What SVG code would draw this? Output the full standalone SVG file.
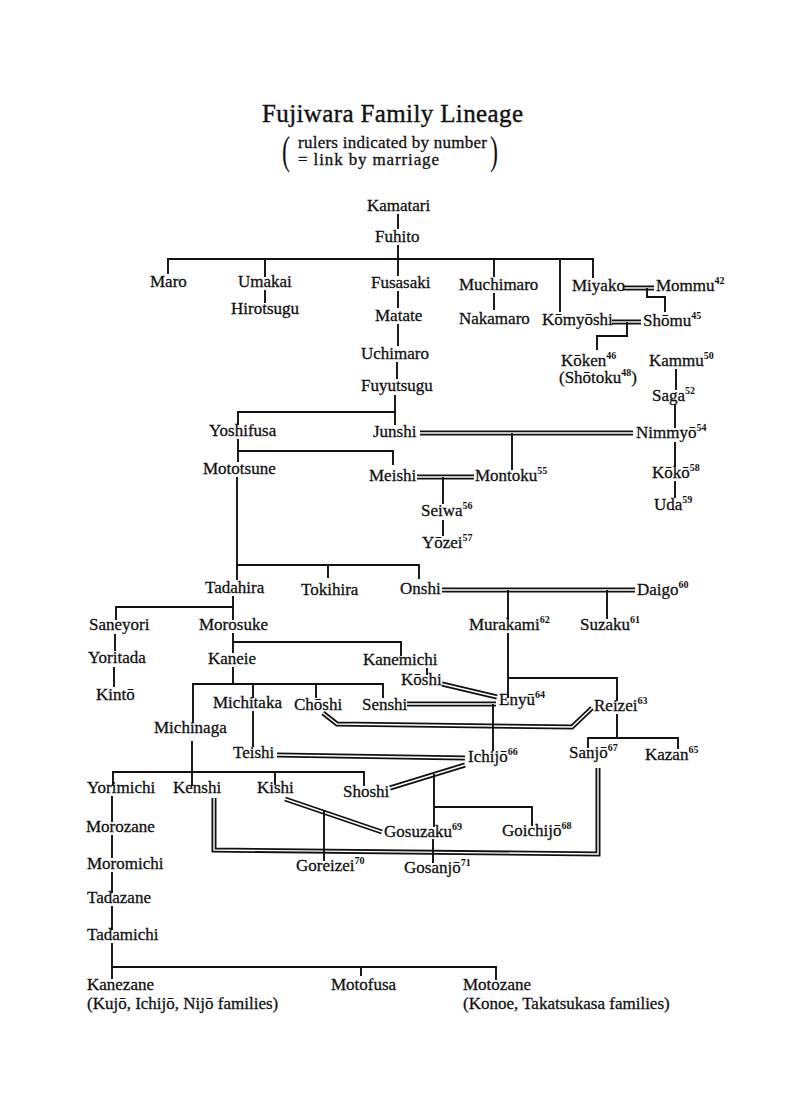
<svg xmlns="http://www.w3.org/2000/svg" xmlns:xlink="http://www.w3.org/1999/xlink" width="800" height="1095" viewBox="0 0 800 1095">
<style>
text{font-family:"Liberation Serif","Times New Roman",serif;fill:#111;stroke:#111;stroke-width:0.3}
.n{font-size:17px}
.s{font-size:10px;font-weight:bold;stroke-width:0}
.t{font-size:25px;stroke-width:0.4}
.sub{font-size:17px}
.par{font-size:40px;stroke-width:0}
.ln{stroke:#111;stroke-width:1.9;fill:none;stroke-linecap:square}
.mo{stroke:#111;stroke-width:5;fill:none;stroke-linejoin:miter}
.mi{stroke:#fff;stroke-width:1.4;fill:none;stroke-linejoin:miter}
</style>
<defs>
<path id="m1" d="M623,288 H654"/>
<path id="m2" d="M612,322 H641"/>
<path id="m3" d="M420,433 H633"/>
<path id="m4" d="M417,477 H474"/>
<path id="m5" d="M442,590 H635"/>
<path id="m6" d="M442,684 L497,697"/>
<path id="m7" d="M407,704 H496"/>
<path id="m8" d="M323,713 L337,724 L572,727 L592,708"/>
<path id="m9" d="M277,755 L465,758"/>
<path id="m10" d="M390,788 L465,765"/>
<path id="m11" d="M285,799 L382,832"/>
<path id="m12" d="M214,798 V850 L598,854 V768"/>
</defs>
<rect width="800" height="1095" fill="#fff"/>

<g id="title">
<text class="t" x="262" y="122" textLength="261" lengthAdjust="spacing">Fujiwara Family Lineage</text>
<text class="par" x="282" y="164" transform="translate(282 0) scale(0.6 1) translate(-282 0)">(</text>
<text class="sub" x="298" y="148" textLength="189" lengthAdjust="spacing">rulers indicated by number</text>
<text class="sub" x="298" y="165" textLength="141" lengthAdjust="spacing">= link by marriage</text>
<text class="par" x="490" y="164" transform="translate(490 0) scale(0.6 1) translate(-490 0)">)</text>
</g>

<g id="connectors">
<g id="marriages">
<use xlink:href="#m1" class="mo"/><use xlink:href="#m2" class="mo"/><use xlink:href="#m3" class="mo"/><use xlink:href="#m4" class="mo"/><use xlink:href="#m5" class="mo"/><use xlink:href="#m6" class="mo"/><use xlink:href="#m7" class="mo"/><use xlink:href="#m8" class="mo"/><use xlink:href="#m9" class="mo"/><use xlink:href="#m10" class="mo"/><use xlink:href="#m11" class="mo"/><use xlink:href="#m12" class="mo"/>
<use xlink:href="#m1" class="mi"/><use xlink:href="#m2" class="mi"/><use xlink:href="#m3" class="mi"/><use xlink:href="#m4" class="mi"/><use xlink:href="#m5" class="mi"/><use xlink:href="#m6" class="mi"/><use xlink:href="#m7" class="mi"/><use xlink:href="#m8" class="mi"/><use xlink:href="#m9" class="mi"/><use xlink:href="#m10" class="mi"/><use xlink:href="#m11" class="mi"/><use xlink:href="#m12" class="mi"/>
</g>
<g id="descent" class="ln">
<path d="M398,215 V228"/>
<path d="M398,246 V275"/>
<path d="M168,259 H593"/>
<path d="M168,259 V273 M265,259 V276 M494,259 V276 M560,259 V311 M593,259 V277"/>
<path d="M265,291 V302"/>
<path d="M494,294 V309"/>
<path d="M398,292 V307"/>
<path d="M398,325 V345"/>
<path d="M397,363 V378"/>
<path d="M647,289 V297 H665 V311"/>
<path d="M627,323 V336 H597 V349"/>
<path d="M676,370 V389 M675,405 V427 M675,443 V466 M675,482 V497"/>
<path d="M395,396 V424"/>
<path d="M238,412 H395"/>
<path d="M238,412 V424 M238,440 V461"/>
<path d="M238,451 H393 V464"/>
<path d="M512,434 V469"/>
<path d="M443,478 V503 M443,521 V535"/>
<path d="M237,478 V579"/>
<path d="M237,565 H419 V578 M328,565 V577"/>
<path d="M508,591 V618 M607,591 V618"/>
<path d="M233,597 V619 M116,607 H233 M116,607 V619"/>
<path d="M115,635 V650 M114,668 V686"/>
<path d="M233,634 V652 M233,642 H401 V655"/>
<path d="M233,668 V684 M193,684 H383 M193,684 V722 M253,684 V697 M316,684 V697 M383,684 V697"/>
<path d="M427,669 V674"/>
<path d="M508,634 V697 M508,678 H617 V700"/>
<path d="M493,705 V750"/>
<path d="M253,712 V746"/>
<path d="M617,715 V738 M588,738 H678 M588,738 V747 M678,738 V748"/>
<path d="M192,742 V785 M113,772 H364 M113,772 V785 M275,772 V784 M364,772 V785"/>
<path d="M434,775 V826 M434,807 H532 V825"/>
<path d="M324,812 V860"/>
<path d="M433,840 V862"/>
<path d="M112,797 V821 M112,836 V857 M112,873 V892 M112,907 V929 M112,944 V978"/>
<path d="M112,967 H496 M361,967 V975 M496,967 V979"/>
</g>
</g>

<g id="nodes" class="n">
<g id="n-kamatari"><text class="n" x="367" y="211">Kamatari</text></g>
<g id="n-fuhito"><text class="n" x="375" y="242">Fuhito</text></g>
<g id="n-maro"><text class="n" x="150" y="287">Maro</text></g>
<g id="n-umakai"><text class="n" x="238" y="287">Umakai</text></g>
<g id="n-hirotsugu"><text class="n" x="231" y="314">Hirotsugu</text></g>
<g id="n-fusasaki"><text class="n" x="371" y="288">Fusasaki</text></g>
<g id="n-muchimaro"><text class="n" x="459" y="290">Muchimaro</text></g>
<g id="n-miyako"><text class="n" x="572" y="291">Miyako</text></g>
<g id="n-mommu"><text class="n" x="656" y="291">Mommu<tspan class="s" dy="-7">42</tspan></text></g>
<g id="n-matate"><text class="n" x="375" y="321">Matate</text></g>
<g id="n-nakamaro"><text class="n" x="459" y="324">Nakamaro</text></g>
<g id="n-komyoshi"><text class="n" x="542" y="325">Kōmyōshi</text></g>
<g id="n-shomu"><text class="n" x="643" y="326">Shōmu<tspan class="s" dy="-7">45</tspan></text></g>
<g id="n-uchimaro"><text class="n" x="361" y="359">Uchimaro</text></g>
<g id="n-koken"><text class="n" x="561" y="366">Kōken<tspan class="s" dy="-7">46</tspan></text><text class="n" x="559" y="383">(Shōtoku<tspan class="s" dy="-7">48</tspan><tspan dy="7">)</tspan></text></g>
<g id="n-kammu"><text class="n" x="649" y="366">Kammu<tspan class="s" dy="-7">50</tspan></text></g>
<g id="n-saga"><text class="n" x="652" y="401">Saga<tspan class="s" dy="-7">52</tspan></text></g>
<g id="n-fuyutsugu"><text class="n" x="361" y="391">Fuyutsugu</text></g>
<g id="n-yoshifusa"><text class="n" x="209" y="436">Yoshifusa</text></g>
<g id="n-junshi"><text class="n" x="373" y="437">Junshi</text></g>
<g id="n-nimmyo"><text class="n" x="636" y="438">Nimmyō<tspan class="s" dy="-7">54</tspan></text></g>
<g id="n-mototsune"><text class="n" x="203" y="474">Mototsune</text></g>
<g id="n-meishi"><text class="n" x="369" y="481">Meishi</text></g>
<g id="n-montoku"><text class="n" x="475" y="481">Montoku<tspan class="s" dy="-7">55</tspan></text></g>
<g id="n-koko"><text class="n" x="652" y="478">Kōkō<tspan class="s" dy="-7">58</tspan></text></g>
<g id="n-uda"><text class="n" x="654" y="510">Uda<tspan class="s" dy="-7">59</tspan></text></g>
<g id="n-seiwa"><text class="n" x="421" y="516">Seiwa<tspan class="s" dy="-7">56</tspan></text></g>
<g id="n-yozei"><text class="n" x="422" y="548">Yōzei<tspan class="s" dy="-7">57</tspan></text></g>
<g id="n-tadahira"><text class="n" x="205" y="593">Tadahira</text></g>
<g id="n-tokihira"><text class="n" x="301" y="595">Tokihira</text></g>
<g id="n-onshi"><text class="n" x="400" y="594">Onshi</text></g>
<g id="n-daigo"><text class="n" x="637" y="595">Daigo<tspan class="s" dy="-7">60</tspan></text></g>
<g id="n-saneyori"><text class="n" x="89" y="630">Saneyori</text></g>
<g id="n-morosuke"><text class="n" x="199" y="630">Morosuke</text></g>
<g id="n-murakami"><text class="n" x="469" y="630">Murakami<tspan class="s" dy="-7">62</tspan></text></g>
<g id="n-suzaku"><text class="n" x="580" y="630">Suzaku<tspan class="s" dy="-7">61</tspan></text></g>
<g id="n-yoritada"><text class="n" x="88" y="663">Yoritada</text></g>
<g id="n-kaneie"><text class="n" x="208" y="664">Kaneie</text></g>
<g id="n-kanemichi"><text class="n" x="363" y="665">Kanemichi</text></g>
<g id="n-koshi"><text class="n" x="401" y="685">Kōshi</text></g>
<g id="n-kinto"><text class="n" x="96" y="700">Kintō</text></g>
<g id="n-michitaka"><text class="n" x="213" y="708">Michitaka</text></g>
<g id="n-choshi"><text class="n" x="294" y="710">Chōshi</text></g>
<g id="n-senshi"><text class="n" x="362" y="710">Senshi</text></g>
<g id="n-enyu"><text class="n" x="499" y="705">Enyū<tspan class="s" dy="-7">64</tspan></text></g>
<g id="n-reizei"><text class="n" x="594" y="711">Reizei<tspan class="s" dy="-7">63</tspan></text></g>
<g id="n-michinaga"><text class="n" x="154" y="733">Michinaga</text></g>
<g id="n-teishi"><text class="n" x="233" y="758">Teishi</text></g>
<g id="n-ichijo"><text class="n" x="468" y="762">Ichijō<tspan class="s" dy="-7">66</tspan></text></g>
<g id="n-sanjo"><text class="n" x="569" y="758">Sanjō<tspan class="s" dy="-7">67</tspan></text></g>
<g id="n-kazan"><text class="n" x="645" y="760">Kazan<tspan class="s" dy="-7">65</tspan></text></g>
<g id="n-yorimichi"><text class="n" x="87" y="793">Yorimichi</text></g>
<g id="n-kenshi"><text class="n" x="173" y="793">Kenshi</text></g>
<g id="n-kishi"><text class="n" x="257" y="793">Kishi</text></g>
<g id="n-shoshi"><text class="n" x="343" y="797">Shoshi</text></g>
<g id="n-morozane"><text class="n" x="86" y="832">Morozane</text></g>
<g id="n-gosuzaku"><text class="n" x="384" y="837">Gosuzaku<tspan class="s" dy="-7">69</tspan></text></g>
<g id="n-goichijo"><text class="n" x="502" y="836">Goichijō<tspan class="s" dy="-7">68</tspan></text></g>
<g id="n-moromichi"><text class="n" x="87" y="869">Moromichi</text></g>
<g id="n-goreizei"><text class="n" x="296" y="871">Goreizei<tspan class="s" dy="-7">70</tspan></text></g>
<g id="n-gosanjo"><text class="n" x="404" y="873">Gosanjō<tspan class="s" dy="-7">71</tspan></text></g>
<g id="n-tadazane"><text class="n" x="87" y="903">Tadazane</text></g>
<g id="n-tadamichi"><text class="n" x="87" y="940">Tadamichi</text></g>
<g id="n-kanezane"><text class="n" x="87" y="990">Kanezane</text><text class="n" x="87" y="1009">(Kujō, Ichijō, Nijō families)</text></g>
<g id="n-motofusa"><text class="n" x="331" y="990">Motofusa</text></g>
<g id="n-motozane"><text class="n" x="463" y="990">Motozane</text><text class="n" x="463" y="1009">(Konoe, Takatsukasa families)</text></g>
</g>
</svg>
